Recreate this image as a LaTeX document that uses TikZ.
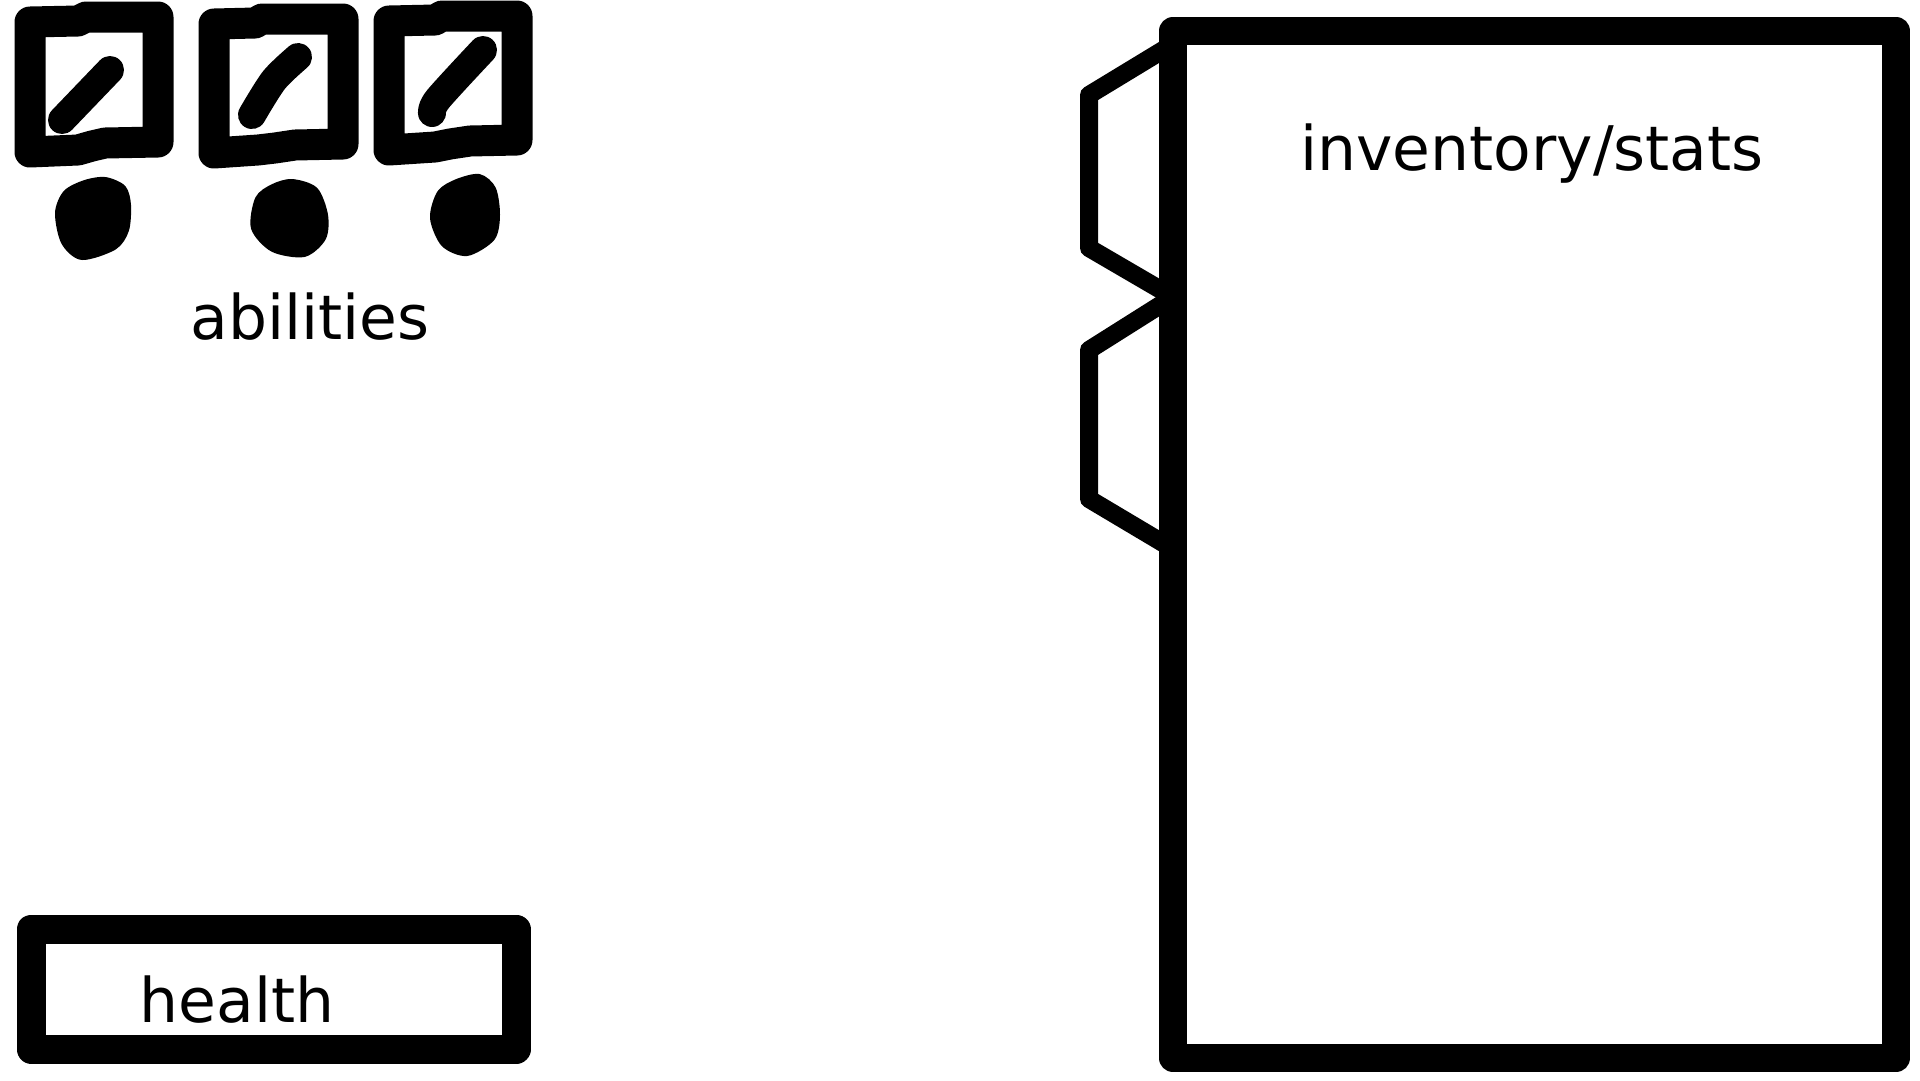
\documentclass[tikz,border=0pt]{standalone}
\usepackage{fontspec}
\setmainfont{DejaVu Sans}
\begin{document}
\begin{tikzpicture}[x=1pt,y=-1pt,
  frame/.style={draw=black,line width=31pt,line join=round},
  hframe/.style={draw=black,line width=29pt,line join=round},
  bigframe/.style={draw=black,line width=28pt,line join=round},
  tabline/.style={draw=black,line width=18pt,line join=round},
  slash/.style={draw=black,line width=28pt,line cap=round,line join=round},
  blob/.style={fill=black,draw=black,line width=6pt,line join=round},
  lbl/.style={font=\fontsize{61.5}{72}\selectfont,inner sep=0pt,anchor=base}]
\fill[white] (0,0) rectangle (1920,1080);
\useasboundingbox (0,0) rectangle (1920,1080);

% ability slots
\draw[frame] (30,22) -- (78,21) -- (86,17) -- (158,17) -- (158,142) -- (105,143) -- (92,146) -- (78,150) -- (30,152) -- cycle;
\draw[slash] (62,120) -- (110,70);
\path[blob] plot[smooth cycle] coordinates {(105,180) (123,188) (128,205) (126,230) (114,247) (82,257) (64,242) (58,213) (66,193) (85,183)};

\draw[frame] (214,24) -- (255,23) -- (262,19) -- (343,19) -- (343,144) -- (295,145) -- (275,148) -- (258,150) -- (214,153) -- cycle;
\draw[slash] plot[smooth] coordinates {(252,115) (274,80) (298,57)};
\path[blob] plot[smooth cycle] coordinates {(292,182) (315,190) (325,215) (323,238) (304,254) (273,249) (254,228) (258,199) (273,187)};

\draw[frame] (389,21) -- (435,20) -- (442,16) -- (517,16) -- (517,140) -- (470,141) -- (450,144) -- (435,147) -- (389,150) -- cycle;
\draw[slash] plot[smooth] coordinates {(432,113) (438,99) (483,50)};
\path[blob] plot[smooth cycle] coordinates {(479,177) (493,189) (497,215) (492,238) (467,253) (444,244) (433,218) (440,193) (457,182)};

\node[lbl] (abilities) at (310,339) {abilities};

% health bar
\draw[hframe] (31,929) rectangle (516,1049);
\node[lbl] (health) at (237,1022) {health};

% inventory tabs
\draw[tabline] (1173,44) -- (1089,95) -- (1089,248) -- (1173,297);
\draw[tabline] (1173,297) -- (1089,350) -- (1089,499) -- (1173,549);

% inventory panel
\draw[bigframe,fill=white] (1173,31) rectangle (1896,1058);
\node[lbl] (inventory) at (1532,170) {inventory/stats};
\end{tikzpicture}
\end{document}
